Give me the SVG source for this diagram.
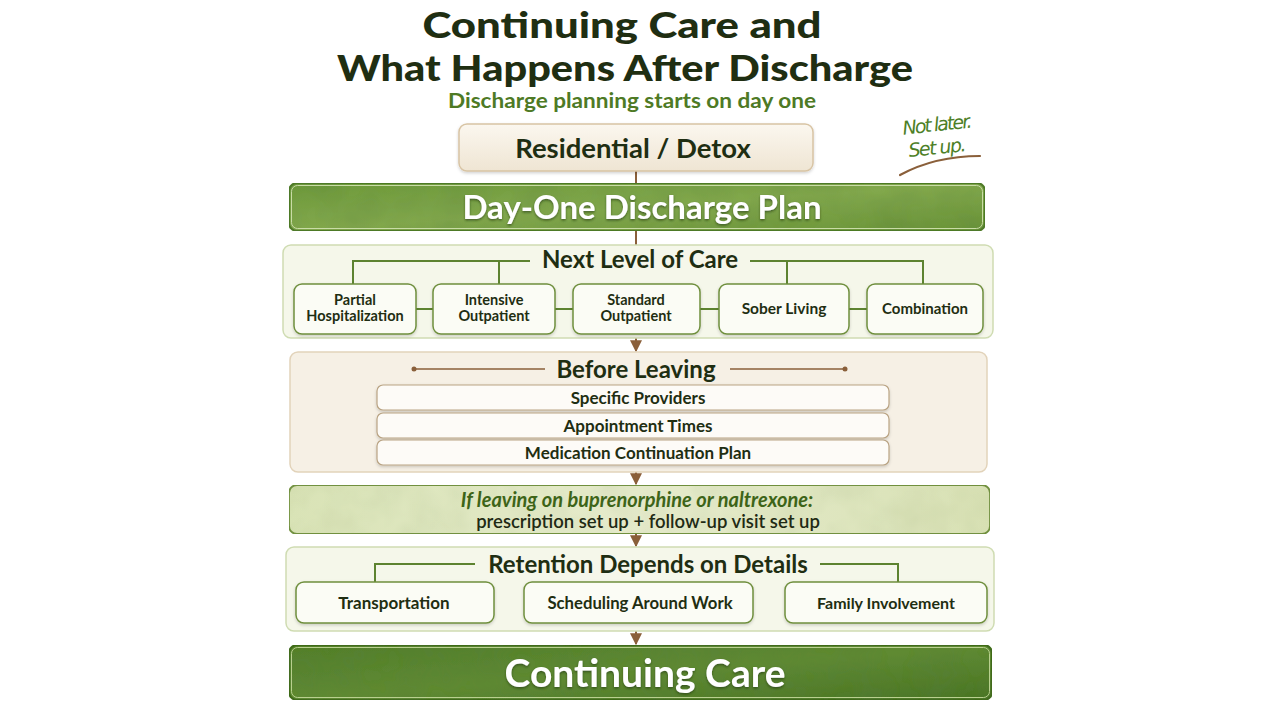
<svg xmlns="http://www.w3.org/2000/svg" width="1280" height="720" viewBox="0 0 1280 720">
<defs>
<style>
.t{font-family:Lato,"Open Sans","Liberation Sans",sans-serif;font-weight:700;text-anchor:middle}
.dark{fill:#1f2e12}
.conn{stroke:#8a5f3a;stroke-width:2;fill:none}
.gl{stroke:#5d8330;stroke-width:2;fill:none}
.box{fill:#fbfcf5;stroke:#6f8f3e;stroke-width:1.5}
.item{fill:#fdfbf7;stroke:#b9a383;stroke-width:1.2}
</style>
<linearGradient id="gDay" x1="0" y1="0" x2="1" y2="1">
<stop offset="0" stop-color="#6e9a3c"/><stop offset="0.5" stop-color="#82a84d"/><stop offset="1" stop-color="#6a9438"/>
</linearGradient>
<linearGradient id="gCont" x1="0" y1="0" x2="1" y2="1">
<stop offset="0" stop-color="#537f2b"/><stop offset="0.5" stop-color="#5f8a33"/><stop offset="1" stop-color="#4a7526"/>
</linearGradient>
<linearGradient id="gBup" x1="0" y1="0" x2="1" y2="0">
<stop offset="0" stop-color="#d9e3b6"/><stop offset="0.5" stop-color="#e6ebcc"/><stop offset="1" stop-color="#d8e1b4"/>
</linearGradient>
<linearGradient id="gRes" x1="0" y1="0" x2="0" y2="1">
<stop offset="0" stop-color="#fbf7ef"/><stop offset="1" stop-color="#efe5d3"/>
</linearGradient>
<filter id="tex" x="0" y="0" width="1" height="1">
<feTurbulence type="fractalNoise" baseFrequency="0.025" numOctaves="3" seed="4" result="n"/>
<feColorMatrix in="n" type="matrix" values="0 0 0 0 0.1  0 0 0 0 0.2  0 0 0 0 0.05  0 0 0 0.4 -0.12" result="nc"/>
<feComposite in="nc" in2="SourceGraphic" operator="in" result="nm"/>
<feMerge><feMergeNode in="SourceGraphic"/><feMergeNode in="nm"/></feMerge>
</filter>
<filter id="texL" x="0" y="0" width="1" height="1">
<feTurbulence type="fractalNoise" baseFrequency="0.03" numOctaves="3" seed="7" result="n"/>
<feColorMatrix in="n" type="matrix" values="0 0 0 0 0.3  0 0 0 0 0.4  0 0 0 0 0.15  0 0 0 0.25 -0.08" result="nc"/>
<feComposite in="nc" in2="SourceGraphic" operator="in" result="nm"/>
<feMerge><feMergeNode in="SourceGraphic"/><feMergeNode in="nm"/></feMerge>
</filter>
<filter id="sh" x="-5%" y="-20%" width="110%" height="150%">
<feDropShadow dx="0" dy="1.5" stdDeviation="1.5" flood-color="#000" flood-opacity="0.18"/>
</filter>
<filter id="ts"><feDropShadow dx="0" dy="1.5" stdDeviation="1" flood-color="#1d3008" flood-opacity="0.6"/></filter>
<marker id="arr" viewBox="0 0 10 10" refX="9" refY="5" markerWidth="6" markerHeight="6" orient="auto">
<path d="M0,0 L10,5 L0,10 z" fill="#8a5f3a"/>
</marker>
</defs>
<rect width="1280" height="720" fill="#ffffff"/>

<g id="title">
<text class="t dark" x="622" y="38" font-size="36" font-weight="900" style="font-weight:900" textLength="399" lengthAdjust="spacingAndGlyphs">Continuing Care and</text>
<text class="t dark" x="625" y="81" font-size="36" font-weight="900" style="font-weight:900" textLength="576" lengthAdjust="spacingAndGlyphs">What Happens After Discharge</text>
<text class="t" x="632" y="108" font-size="21.5" fill="#4e7a25" textLength="368" lengthAdjust="spacingAndGlyphs">Discharge planning starts on day one</text>
</g>

<g id="note">
<text x="938" y="131" font-family="'DejaVu Sans','Liberation Sans',sans-serif" font-style="italic" font-size="19" fill="#4d7f27" text-anchor="middle" transform="rotate(-6 938 131)" textLength="70">Not later.</text>
<text x="938" y="154" font-family="'DejaVu Sans','Liberation Sans',sans-serif" font-style="italic" font-size="19" fill="#4d7f27" text-anchor="middle" transform="rotate(-6 938 154)" textLength="58">Set up.</text>
<path d="M900,175 Q935,156 980,156" stroke="#8a5f3a" stroke-width="2.2" fill="none" stroke-linecap="round"/>
</g>

<g id="connectors">
<line class="conn" x1="636" y1="171" x2="636" y2="184"/>
<line class="conn" x1="636" y1="231" x2="636" y2="246"/>
<line class="conn" x1="636" y1="272" x2="636" y2="284"/>
<line class="conn" x1="636" y1="334" x2="636" y2="351" marker-end="url(#arr)"/>
<line class="conn" x1="636" y1="472" x2="636" y2="484" marker-end="url(#arr)"/>
<line class="conn" x1="636" y1="534" x2="636" y2="546" marker-end="url(#arr)"/>
<line class="conn" x1="636" y1="631" x2="636" y2="644" marker-end="url(#arr)"/>
</g>

<g id="residential">
<rect x="459" y="124" width="354" height="47" rx="8" fill="url(#gRes)" stroke="#d8c4a4" stroke-width="1.5" filter="url(#sh)"/>
<text class="t dark" x="633" y="158" font-size="27.5">Residential / Detox</text>
</g>

<g id="dayone">
<rect x="289" y="183" width="696" height="48" rx="8" fill="url(#gDay)" stroke="#4e7a26" stroke-width="2" filter="url(#tex)"/>
<rect x="291.5" y="185.5" width="691" height="43" rx="6" fill="none" stroke="#c9dca6" stroke-width="1"/>
<text class="t" x="642" y="219" font-size="33" fill="#ffffff" filter="url(#ts)">Day-One Discharge Plan</text>
</g>

<g id="nextlevel">
<rect x="283" y="245" width="710" height="93" rx="8" fill="#f5f7ea" stroke="#cfdcb2" stroke-width="1.5"/>
<text class="t dark" x="640" y="268" font-size="24">Next Level of Care</text>
<path class="gl" d="M530,261 H353 V284 M499,261 V284 M750,261 H923 V284 M787,261 V284"/>
<path class="gl" d="M416,309 H433 M555,309 H573 M700,309 H719 M849,309 H867"/>
<g id="n-partial">
<rect class="box" x="294" y="284" width="122" height="50" rx="8" filter="url(#sh)"/>
<text class="t dark" x="355" y="305" font-size="14.5">Partial</text>
<text class="t dark" x="355" y="321" font-size="14.5">Hospitalization</text>
</g>
<g id="n-intensive">
<rect class="box" x="433" y="284" width="122" height="50" rx="8" filter="url(#sh)"/>
<text class="t dark" x="494" y="305" font-size="14.5">Intensive</text>
<text class="t dark" x="494" y="321" font-size="14.5">Outpatient</text>
</g>
<g id="n-standard">
<rect class="box" x="573" y="284" width="127" height="50" rx="8" filter="url(#sh)"/>
<text class="t dark" x="636" y="305" font-size="14.5">Standard</text>
<text class="t dark" x="636" y="321" font-size="14.5">Outpatient</text>
</g>
<g id="n-sober">
<rect class="box" x="719" y="284" width="130" height="50" rx="8" filter="url(#sh)"/>
<text class="t dark" x="784" y="314" font-size="15.5">Sober Living</text>
</g>
<g id="n-combination">
<rect class="box" x="867" y="284" width="116" height="50" rx="8" filter="url(#sh)"/>
<text class="t dark" x="925" y="314" font-size="15">Combination</text>
</g>
</g>

<g id="beforeleaving">
<rect x="290" y="352" width="697" height="120" rx="8" fill="#f6f0e5" stroke="#e2d3ba" stroke-width="1.5"/>
<text class="t dark" x="636" y="378" font-size="24">Before Leaving</text>
<path d="M414,369 H545 M730,369 H845" stroke="#8a5f3a" stroke-width="1.5" fill="none"/>
<circle cx="414" cy="369" r="2.5" fill="#8a5f3a"/>
<circle cx="845" cy="369" r="2.5" fill="#8a5f3a"/>
<g id="i-providers">
<rect class="item" x="377" y="385" width="512" height="25" rx="6" filter="url(#sh)"/>
<text class="t dark" x="638" y="404" font-size="17">Specific Providers</text>
</g>
<g id="i-appointments">
<rect class="item" x="377" y="413" width="512" height="25" rx="6" filter="url(#sh)"/>
<text class="t dark" x="638" y="432" font-size="17">Appointment Times</text>
</g>
<g id="i-medication">
<rect class="item" x="377" y="440" width="512" height="25" rx="6" filter="url(#sh)"/>
<text class="t dark" x="638" y="459" font-size="17">Medication Continuation Plan</text>
</g>
</g>

<g id="buprenorphine">
<rect x="289" y="485" width="701" height="49" rx="8" fill="url(#gBup)" stroke="#6f8f3e" stroke-width="1.8" filter="url(#texL)"/>
<text class="t" x="637" y="507" font-size="20" font-style="italic" fill="#3d6418">If leaving on buprenorphine or naltrexone:</text>
<text class="t" x="648" y="528" font-size="18.5" fill="#1f2a14" style="font-weight:600">prescription set up + follow-up visit set up</text>
</g>

<g id="retention">
<rect x="286" y="547" width="708" height="84" rx="8" fill="#f5f7ea" stroke="#cfdcb2" stroke-width="1.5"/>
<text class="t dark" x="648" y="573" font-size="24">Retention Depends on Details</text>
<path class="gl" d="M475,564 H375 V582 M820,564 H898 V582"/>
<g id="r-transport">
<rect class="box" x="296" y="582" width="198" height="41" rx="8" filter="url(#sh)"/>
<text class="t dark" x="394" y="609" font-size="17">Transportation</text>
</g>
<g id="r-scheduling">
<rect class="box" x="524" y="582" width="229" height="41" rx="8" filter="url(#sh)"/>
<text class="t dark" x="640" y="609" font-size="16.7">Scheduling Around Work</text>
</g>
<g id="r-family">
<rect class="box" x="785" y="582" width="202" height="41" rx="8" filter="url(#sh)"/>
<text class="t dark" x="886" y="609" font-size="16">Family Involvement</text>
</g>
</g>

<g id="continuing">
<rect x="289" y="645" width="703" height="55" rx="8" fill="url(#gCont)" stroke="#3f6a1e" stroke-width="2" filter="url(#tex)"/>
<rect x="291.5" y="647.5" width="698" height="50" rx="6" fill="none" stroke="#b9d08f" stroke-width="1"/>
<text class="t" x="645" y="687" font-size="39" fill="#ffffff" filter="url(#ts)">Continuing Care</text>
</g>
</svg>
